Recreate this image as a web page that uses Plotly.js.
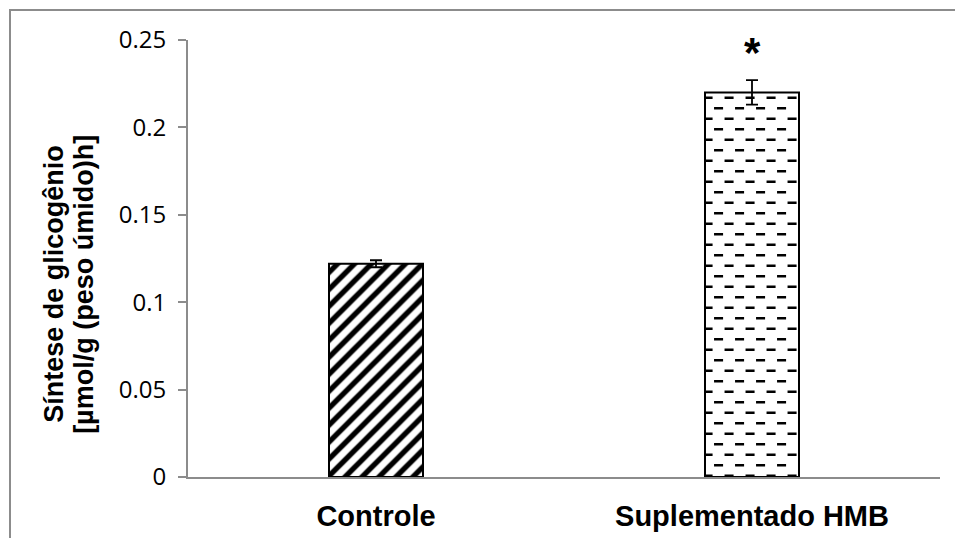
<!DOCTYPE html>
<html>
<head>
<meta charset="utf-8">
<script src="https://cdn.plot.ly/plotly-3.0.1.min.js"></script>
<style>
  html, body { margin: 0; padding: 0; background: #ffffff; }
  #chart { width: 955px; height: 538px; }
</style>
</head>
<body>
<div id="chart"></div>
<script>
// ---- data ----
const categories = ['Controle', 'Suplementado HMB'];
const values = [0.122, 0.220];
const errors = [0.002, 0.007];
const significance = ['', '*'];
const yTitleLines = ['Síntese de glicogênio', '[µmol/g (peso úmido)h]'];

const AXIS_GRAY = '#8c8c8c';
const BOLD_FONT = 'Liberation Sans, Arial, sans-serif';

const trace = {
  type: 'bar',
  x: categories,
  y: values,
  width: 0.25,
  marker: {
    color: '#ffffff',
    line: { color: '#000000', width: 2 },
    pattern: {
      shape: ['/', '-'],
      fgcolor: '#000000',
      bgcolor: '#ffffff',
      size: [12, 21],
      solidity: [0.45, 0.3],
      fillmode: 'replace'
    }
  },
  error_y: {
    type: 'data',
    array: errors,
    visible: true,
    color: '#000000',
    thickness: 1.8,
    width: 6
  },
  hoverinfo: 'skip'
};

const annotations = [];
categories.forEach((c, i) => {
  if (significance[i]) {
    annotations.push({
      xref: 'x', yref: 'y',
      x: c, y: values[i] + errors[i],
      text: significance[i],
      showarrow: false,
      yanchor: 'middle',
      yshift: 28,
      font: { family: BOLD_FONT, size: 42, color: '#000000', weight: 'bold' }
    });
  }
});
// y-axis title, one annotation per line (tighter line spacing than <br>)
const titleX = [-0.1785, -0.1385];
yTitleLines.forEach((line, i) => {
  annotations.push({
    xref: 'paper', yref: 'paper',
    x: titleX[i], y: 0.4416,
    xanchor: 'center', yanchor: 'middle',
    textangle: -90,
    showarrow: false,
    text: line,
    font: { family: BOLD_FONT, size: 27, color: '#000000', weight: 'bold' }
  });
});

const layout = {
  width: 955,
  height: 538,
  margin: { l: 188, r: 15, t: 40, b: 61 },
  paper_bgcolor: '#ffffff',
  plot_bgcolor: '#ffffff',
  showlegend: false,
  hovermode: false,
  xaxis: {
    type: 'category',
    range: [-0.5, 1.5],
    showline: true,
    linecolor: AXIS_GRAY,
    linewidth: 2,
    ticks: '',
    showgrid: false,
    zeroline: false,
    ticklabelstandoff: 12,
    tickfont: { family: BOLD_FONT, size: 29, color: '#000000', weight: 'bold' }
  },
  yaxis: {
    range: [0, 0.25],
    tick0: 0,
    dtick: 0.05,
    ticks: 'outside',
    ticklen: 8,
    tickwidth: 2,
    tickcolor: AXIS_GRAY,
    showline: true,
    linecolor: AXIS_GRAY,
    linewidth: 2,
    showgrid: false,
    zeroline: false,
    ticklabelstandoff: 7,
    tickfont: { family: 'Open Sans, sans-serif', size: 24, color: '#000000' }
  },
  shapes: [{
    type: 'rect',
    xref: 'paper', yref: 'paper',
    x0: -0.2367, x1: 1.2,
    y0: -0.3, y1: 1.0687,
    line: { color: AXIS_GRAY, width: 2 },
    fillcolor: 'rgba(0,0,0,0)',
    layer: 'below'
  }],
  annotations: annotations
};

function dashPattern(gd) {
  // turn the horizontal-line fill ('-') of the bars into staggered short dashes
  const shapes = trace.marker.pattern.shape;
  const pts = gd.querySelectorAll('.trace.bars .point path');
  pts.forEach((pt, i) => {
    if (shapes[i] !== '-') return;
    const st = (pt.getAttribute('style') || '') + ' ' + (pt.getAttribute('fill') || '');
    const m = st.match(/url\(["']?#([^"')]+)["']?\)/);
    if (!m) return;
    const pat = document.getElementById(m[1]);
    if (!pat) return;
    const path = pat.querySelector('path');
    if (!path) return;
    const w = parseFloat(pat.getAttribute('width')) || 21;
    const h = parseFloat(pat.getAttribute('height')) || 21;
    const dash = w * 0.43;
    path.setAttribute('d',
      'M' + (w * 0.05) + ',' + (h * 0.25) + 'h' + dash +
      'M' + (w * 0.55) + ',' + (h * 0.75) + 'h' + dash);
    path.setAttribute('stroke-width', '2.4px');
    path.style.strokeWidth = '2.4px';
  });
}

const gd = document.getElementById('chart');
Plotly.newPlot(gd, [trace], layout, { displayModeBar: false, staticPlot: true })
  .then(() => dashPattern(gd));
</script>
</body>
</html>
